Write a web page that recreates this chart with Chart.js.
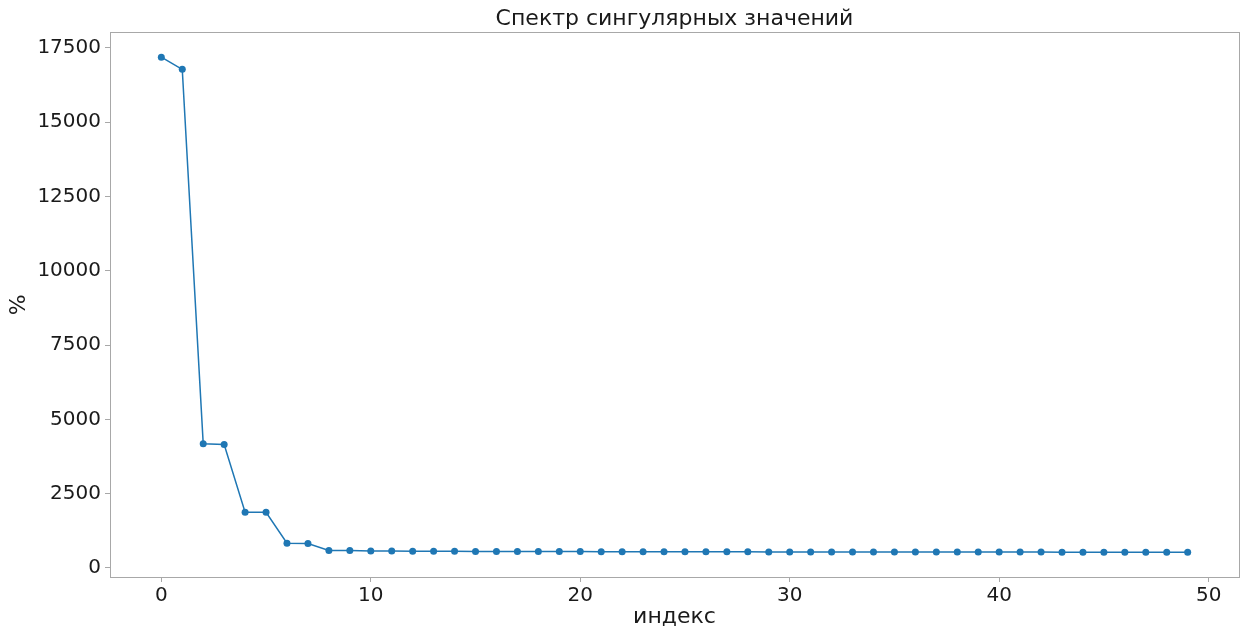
<!DOCTYPE html>
<html>
<head>
<meta charset="utf-8">
<script src="https://cdn.jsdelivr.net/npm/chart.js@4"></script>
<style>
  html, body { margin: 0; padding: 0; background: #fff; }
  #wrap { width: 1250px; height: 630px; }
</style>
</head>
<body>
<div id="wrap"><canvas id="c" width="1250" height="630"></canvas></div>
<script>
// Singular value spectrum
const indices = Array.from({length: 50}, (_, i) => i);
const singularValues = [
  17190, 16780, 4180, 4150, 1875, 1870, 830, 822, 585, 580,
  566, 563, 560, 558, 556, 554, 552, 550, 548, 547,
  546, 545, 544, 543, 542, 541, 540, 539, 538, 537,
  536, 536, 535, 535, 534, 534, 533, 533, 532, 532,
  531, 531, 530, 528, 527, 527, 526, 526, 525, 525
];
const xTickValues = [0, 10, 20, 30, 40, 50];
const yTickValues = [0, 2500, 5000, 7500, 10000, 12500, 15000, 17500];

const titleText = 'Спектр сингулярных значений';
const xLabel = 'индекс';
const yLabel = '%';

const FONT = "'DejaVu Sans', sans-serif";
const SPINE = '#a8a8a8';
const TEXT = '#1a1a1a';

// 5% margins around the data on both axes
const xMin = -2.45, xMax = 51.45;
const yLo = Math.min(...singularValues), yHi = Math.max(...singularValues);
const yPad = (yHi - yLo) * 0.05;

const frame = {
  id: 'frame',
  afterDraw(chart) {
    const {ctx, chartArea: a} = chart;
    ctx.save();
    ctx.strokeStyle = SPINE;
    ctx.lineWidth = 1;
    ctx.strokeRect(Math.round(a.left) + 0.5, Math.round(a.top) + 0.5,
                   Math.round(a.right - a.left), Math.round(a.bottom - a.top));
    ctx.restore();
  }
};

new Chart(document.getElementById('c'), {
  type: 'line',
  data: {
    datasets: [{
      data: indices.map((x, i) => ({x, y: singularValues[i]})),
      borderColor: '#1f77b4',
      backgroundColor: '#1f77b4',
      borderWidth: 1.5,
      pointRadius: 3.5,
      pointBorderWidth: 0,
      pointHoverRadius: 3.5,
      tension: 0
    }]
  },
  options: {
    responsive: false,
    animation: false,
    events: [],
    layout: { padding: { left: 0, right: 11, top: 0, bottom: 0 } },
    plugins: {
      legend: { display: false },
      tooltip: { enabled: false },
      title: {
        display: true,
        fullSize: false,
        text: titleText,
        color: TEXT,
        font: { family: FONT, size: 22, weight: 'normal' },
        padding: { top: 6, bottom: 0 }
      }
    },
    scales: {
      x: {
        type: 'linear',
        min: xMin,
        max: xMax,
        afterBuildTicks(s) { s.ticks = xTickValues.map(v => ({value: v})); },
        afterFit(s) { s.height = 53; },
        grid: { drawOnChartArea: false, drawTicks: true, tickLength: 5, tickColor: SPINE },
        border: { color: SPINE },
        ticks: { color: TEXT, font: { family: FONT, size: 20 }, padding: 2, maxRotation: 0,
                 callback: v => String(v) },
        title: {
          display: true, text: xLabel, color: TEXT,
          font: { family: FONT, size: 22 }, padding: { top: 0, bottom: 0 }
        }
      },
      y: {
        type: 'linear',
        min: yLo - yPad,
        max: yHi + yPad,
        afterBuildTicks(s) { s.ticks = yTickValues.map(v => ({value: v})); },
        afterFit(s) { s.width = 110; },
        grid: { drawOnChartArea: false, drawTicks: true, tickLength: 5, tickColor: SPINE },
        border: { color: SPINE },
        ticks: { color: TEXT, font: { family: FONT, size: 20 }, padding: 4,
                 callback: v => String(v) },
        title: {
          display: true, text: yLabel, color: TEXT,
          font: { family: FONT, size: 22 }, padding: { top: 6, bottom: 0 }
        }
      }
    }
  },
  plugins: [frame]
});
</script>
</body>
</html>
